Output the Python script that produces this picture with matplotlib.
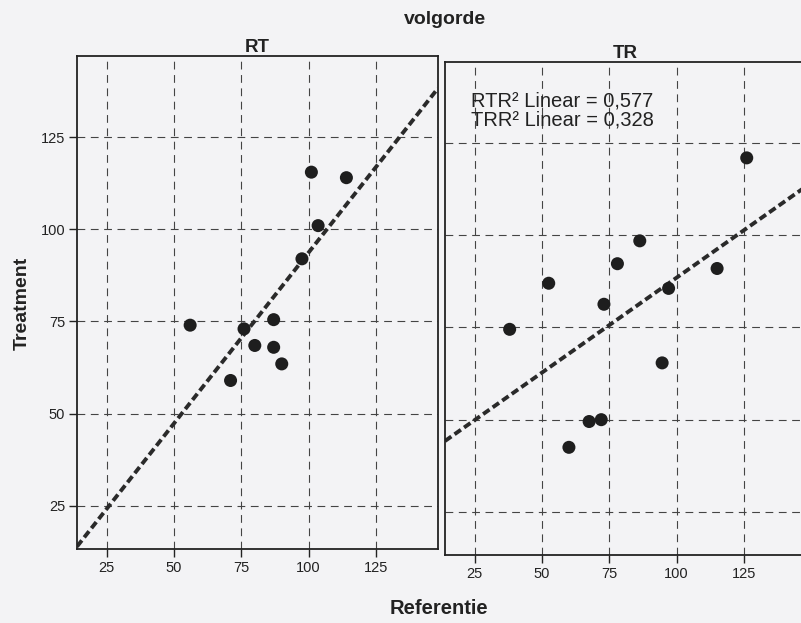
import numpy as np
import matplotlib
matplotlib.use("Agg")
import matplotlib.pyplot as plt

plt.rcParams['font.family'] = ['Liberation Sans', 'DejaVu Sans']

# gegevens
rt_ref = [56, 71, 76, 80, 87, 87, 90, 97.5, 103.5, 101, 114]
rt_treat = [74, 59, 73, 68.5, 75.5, 68, 63.5, 92, 101, 115.5, 114]

tr_ref = [38, 52.5, 60, 67.5, 72, 73, 78, 86.3, 94.6, 97, 115, 126]
tr_treat = [74.5, 87, 42.5, 49.5, 50, 81.3, 92.3, 98.5, 65.4, 85.6, 91, 121]

panels = ['RT', 'TR']
r2_labels = ['RTR\u00b2 Linear = 0,577', 'TRR\u00b2 Linear = 0,328']
ticks = [25, 50, 75, 100, 125]

bg = '#f3f3f5'
ink = '#222222'
xlim = (14, 148)
ylim = (13.3, 147)

fig = plt.figure(figsize=(8.01, 6.23), dpi=100, facecolor=bg)
W, H = 801, 623

def make_axes(x0, x1, ytop, ybot):
    return fig.add_axes([x0 / W, 1 - ybot / H, (x1 - x0) / W, (ybot - ytop) / H])

ax1 = make_axes(77, 438, 56, 549)
ax2 = make_axes(445, 806, 62, 555)

data = [(rt_ref, rt_treat), (tr_ref, tr_treat)]

for ax, name, (x, y) in zip([ax1, ax2], panels, data):
    ax.set_facecolor(bg)
    ax.set_xlim(*xlim)
    ax.set_ylim(*ylim)
    ax.set_xticks(ticks)
    ax.set_yticks(ticks)
    ax.grid(True, color='#444444', lw=0.8, linestyle=(0, (7, 5)))
    ax.set_axisbelow(True)
    for sp in ax.spines.values():
        sp.set_color(ink)
        sp.set_linewidth(1.3)
    ax.tick_params(direction='out', length=5.5, width=1.0, color=ink,
                   labelsize=10.5, labelcolor=ink, pad=3)
    ax.set_title(name, fontsize=13.5, fontweight='bold', color=ink, pad=3)

    # lineaire fit over de hele x-as
    b, a = np.polyfit(x, y, 1)
    xx = np.array(xlim)
    ax.plot(xx, a + b * xx, color='#2a2a2a', lw=2.8,
            linestyle=(0, (2.0, 1.0)), zorder=2)
    ax.scatter(x, y, s=88, color='#1e1e1e', edgecolors='none', zorder=3)

ax2.tick_params(axis='y', left=False, labelleft=False)

ax2.text(0.072, 0.94, r2_labels[0] + '\n' + r2_labels[1], transform=ax2.transAxes,
         ha='left', va='top', fontsize=14.5, color=ink, linespacing=1.0)

fig.text(445 / W, 1 - 20 / H, 'volgorde', ha='center', va='center',
         fontsize=14, fontweight='bold', color=ink)
fig.text(439 / W, 1 - 608 / H, 'Referentie', ha='center', va='center',
         fontsize=14.5, fontweight='bold', color=ink)
fig.text(22 / W, 1 - 303 / H, 'Treatment', ha='center', va='center',
         rotation=90, fontsize=14, fontweight='bold', color=ink)

fig.savefig('out.png', dpi=100, facecolor=bg)
